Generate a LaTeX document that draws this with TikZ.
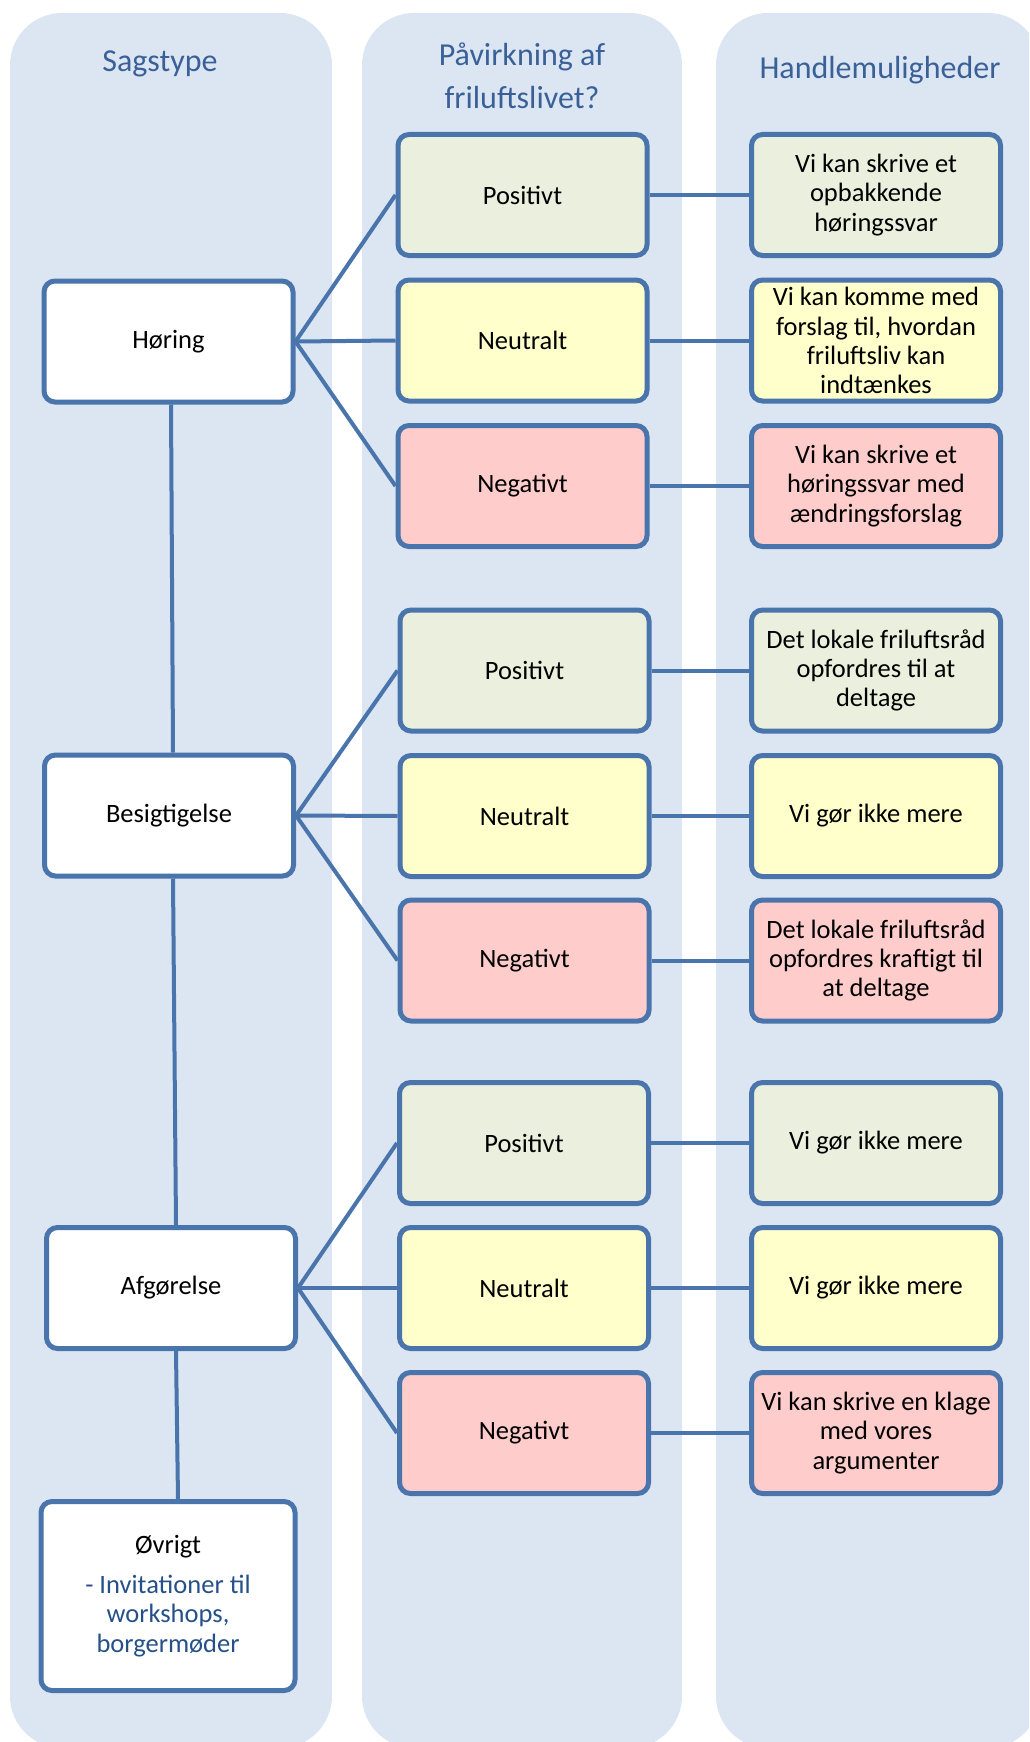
\documentclass[tikz,border=0pt]{standalone}
\usepackage{fontspec}
\setmainfont{Carlito}
\definecolor{colbg}{RGB}{220,230,242}
\definecolor{bordercol}{RGB}{74,116,172}
\definecolor{posfill}{RGB}{235,240,222}
\definecolor{neufill}{RGB}{255,255,204}
\definecolor{negfill}{RGB}{255,204,204}
\definecolor{headcol}{RGB}{58,96,152}
\definecolor{ovblue}{RGB}{38,80,138}
\tikzset{
  box/.style={draw=bordercol, line width=5pt, rounded corners=11pt,
    minimum width=249pt, minimum height=121pt, align=center, inner sep=4pt,
    font=\fontsize{26.5}{29.2}\selectfont},
  sagbox/.style={box, fill=white},
  posbox/.style={box, fill=posfill},
  neubox/.style={box, fill=neufill},
  negbox/.style={box, fill=negfill},
  conn/.style={draw=bordercol, line width=4pt},
  colbox/.style={fill=colbg, rounded corners=52pt},
  header/.style={text=headcol, align=center, font=\fontsize{32}{43}\selectfont}
}
\begin{document}
\begin{tikzpicture}[x=1pt, y=-1pt]
\useasboundingbox (0,0) rectangle (1029,1742);
\begin{scope}
\clip (0,0) rectangle (1029,1742);
\fill[colbox] (10,13) rectangle (332,1748);
\fill[colbox] (362,13) rectangle (682,1748);
\fill[colbox] (716,13) rectangle (1040,1748);
\end{scope}

% headers
\node[header] (h1) at (160,64) {Sagstype};
\node[header] (h2) at (522,76) {Påvirkning af\\friluftslivet?};
\node[header] (h3) at (880,70) {Handlemuligheder};

% left column
\node[sagbox] (hor) at (168.5,341.5) {Høring};
\node[sagbox] (bes) at (169,815.5) {Besigtigelse};
\node[sagbox] (afg) at (171,1288) {Afgørelse};
\node[sagbox, minimum width=254pt, minimum height=189pt] (ovr) at (168,1596)
  {Øvrigt\\[11pt]\textcolor{ovblue}{- Invitationer til}\\\textcolor{ovblue}{workshops,}\\\textcolor{ovblue}{borgermøder}};

% middle column
\node[posbox] (p1) at (522.5,195) {Positivt};
\node[neubox] (n1) at (522.5,340.5) {Neutralt};
\node[negbox] (m1) at (522.5,486) {Negativt};
\node[posbox] (p2) at (524.5,670.5) {Positivt};
\node[neubox] (n2) at (524.5,816) {Neutralt};
\node[negbox] (m2) at (524.5,960.5) {Negativt};
\node[posbox] (p3) at (524,1143) {Positivt};
\node[neubox] (n3) at (524,1288) {Neutralt};
\node[negbox] (m3) at (524,1433) {Negativt};

% right column
\node[posbox] (rp1) at (876,195) {Vi kan skrive et\\opbakkende\\høringssvar};
\node[neubox] (rn1) at (876,340.5) {Vi kan komme med\\forslag til, hvordan\\friluftsliv kan\\indtænkes};
\node[negbox] (rm1) at (876,486) {Vi kan skrive et\\høringssvar med\\ændringsforslag};
\node[posbox] (rp2) at (876,670.5) {Det lokale friluftsråd\\opfordres til at\\deltage};
\node[neubox] (rn2) at (876,816) {Vi gør ikke mere};
\node[negbox] (rm2) at (876,960.5) {Det lokale friluftsråd\\opfordres kraftigt til\\at deltage};
\node[posbox] (rp3) at (876,1143) {Vi gør ikke mere};
\node[neubox] (rn3) at (876,1288) {Vi gør ikke mere};
\node[negbox] (rm3) at (876,1433) {Vi kan skrive en klage\\med vores\\argumenter};

% connectors
\draw[conn] ([xshift=2.5pt]hor.south) -- ([xshift=4pt]bes.north);
\draw[conn] ([xshift=4pt]bes.south) -- ([xshift=5pt]afg.north);
\draw[conn] ([xshift=5pt]afg.south) -- ([xshift=10pt]ovr.north);

\draw[conn] (hor.east) -- (p1.west);
\draw[conn] (hor.east) -- (n1.west);
\draw[conn] (hor.east) -- (m1.west);
\draw[conn] (bes.east) -- (p2.west);
\draw[conn] (bes.east) -- (n2.west);
\draw[conn] (bes.east) -- (m2.west);
\draw[conn] (afg.east) -- (p3.west);
\draw[conn] (afg.east) -- (n3.west);
\draw[conn] (afg.east) -- (m3.west);

\draw[conn] (p1.east) -- (rp1.west);
\draw[conn] (n1.east) -- (rn1.west);
\draw[conn] (m1.east) -- (rm1.west);
\draw[conn] (p2.east) -- (rp2.west);
\draw[conn] (n2.east) -- (rn2.west);
\draw[conn] (m2.east) -- (rm2.west);
\draw[conn] (p3.east) -- (rp3.west);
\draw[conn] (n3.east) -- (rn3.west);
\draw[conn] (m3.east) -- (rm3.west);
\end{tikzpicture}
\end{document}
